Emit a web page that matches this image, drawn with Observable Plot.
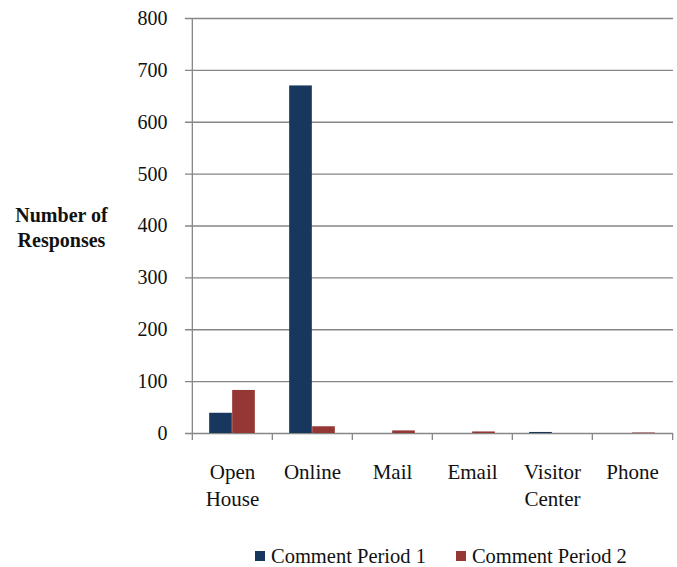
<!DOCTYPE html>
<html>
<head>
<meta charset="utf-8">
<script src="https://cdn.jsdelivr.net/npm/d3@7"></script>
<script src="https://cdn.jsdelivr.net/npm/@observablehq/plot@0.6"></script>
<style>
  body { margin: 0; background: #fff; font-family: "Liberation Serif", "DejaVu Serif", serif; }
  svg text { font-family: "Liberation Serif", "DejaVu Serif", serif; }
  #legend { display: flex; align-items: center; margin-left: 255px; height: 32px; font-size: 20.5px; line-height: 1; color: #111; }
  #legend .sw { width: 10px; height: 10px; display: inline-block; margin-right: 6px; }
  #legend .item { display: flex; align-items: center; margin-right: 30px; }
</style>
</head>
<body>
<div id="chart"></div>
<script>
const categories = ["Open House", "Online", "Mail", "Email", "Visitor Center", "Phone"];
const xLabels = ["Open\nHouse", "Online", "Mail", "Email", "Visitor\nCenter", "Phone"];
const period1 = [39, 670, 0, 0, 2, 0];
const period2 = [83, 13, 5, 3, 0, 1];
const seriesNames = ["Comment Period 1", "Comment Period 2"];
const seriesColors = ["#17375E", "#953735"];
const yTicks = [0, 100, 200, 300, 400, 500, 600, 700, 800];

const FONT = "Liberation Serif";
const W = 677, H = 540, mL = 191, mR = 4, mT = 18, mB = 107;
const bw = (W - mL - mR) / categories.length;
const barW = 23;
const grid = "#868686";

const plot = Plot.plot({
  width: W, height: H,
  marginLeft: mL, marginRight: mR, marginTop: mT, marginBottom: mB,
  style: { fontFamily: FONT, fontSize: "20px", color: "#111", background: "#fff" },
  x: { domain: categories, padding: 0, axis: null },
  y: { domain: [0, 800], axis: null },
  marks: [
    Plot.ruleY(yTicks, { stroke: grid, strokeWidth: 1.3, insetLeft: -6 }),
    Plot.ruleX([categories[0]], { x: d => d, y1: 0, y2: 800, dx: -bw / 2, stroke: grid, strokeWidth: 1.3 }),
    Plot.ruleX(categories, { x: d => d, y1: 0, y2: 0, insetBottom: -7, dx: -bw / 2, stroke: grid, strokeWidth: 1.3 }),
    Plot.ruleX([categories[categories.length - 1]], { x: d => d, y1: 0, y2: 0, insetBottom: -7, dx: bw / 2, stroke: grid, strokeWidth: 1.3 }),
    Plot.barY(categories, { x: d => d, y: (d, i) => period1[i], fill: seriesColors[0], insetLeft: bw / 2 - barW, insetRight: bw / 2 }),
    Plot.barY(categories, { x: d => d, y: (d, i) => period2[i], fill: seriesColors[1], insetLeft: bw / 2, insetRight: bw / 2 - barW }),
    Plot.text(yTicks, { y: d => d, frameAnchor: "left", dx: -24, textAnchor: "end", text: d => String(d), fill: "#111", fontFamily: FONT, fontSize: 20 }),
    Plot.text(categories, { x: d => d, y: 0, text: (d, i) => xLabels[i], lineAnchor: "top", dy: 26, lineHeight: 1.3, fill: "#111", fontFamily: FONT, fontSize: 21 }),
    Plot.text(["Number of\nResponses"], { frameAnchor: "left", dx: -130, textAnchor: "middle", fontWeight: "bold", fontSize: 20, lineHeight: 1.25, fill: "#111", fontFamily: FONT, text: d => d })
  ]
});
document.getElementById("chart").appendChild(plot);

const legend = document.createElement("div");
legend.id = "legend";
seriesNames.forEach((name, i) => {
  const item = document.createElement("span");
  item.className = "item";
  const sw = document.createElement("span");
  sw.className = "sw";
  sw.style.background = seriesColors[i];
  item.appendChild(sw);
  item.appendChild(document.createTextNode(name));
  legend.appendChild(item);
});
document.getElementById("chart").appendChild(legend);
</script>
</body>
</html>
